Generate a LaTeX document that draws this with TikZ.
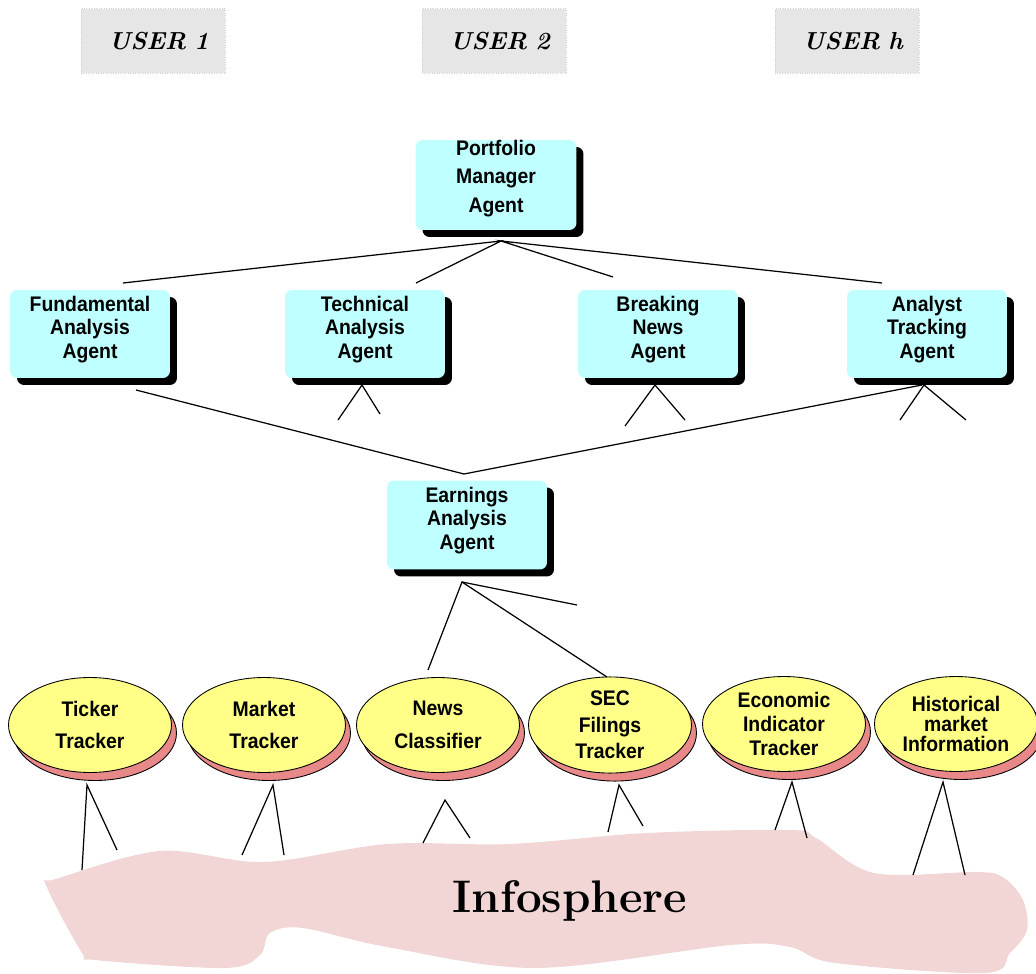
\documentclass[tikz,border=0pt]{standalone}
\usepackage{fontspec}
\setsansfont{Liberation Sans}[FakeStretch=0.92]
\usetikzlibrary{shapes.geometric,shadows}

\definecolor{agentcyan}{RGB}{192,255,255}
\definecolor{trackeryellow}{RGB}{255,255,136}
\definecolor{trackershadow}{RGB}{232,136,136}
\definecolor{infopink}{RGB}{242,214,214}
\definecolor{usergray}{RGB}{230,230,230}

\begin{document}
\begin{tikzpicture}[
        x=0.02cm, y=-0.02cm, % единица = пиксель исходника
        agent/.style = {rectangle, rounded corners=4pt, fill=agentcyan, minimum width=3.2cm, minimum height=1.76cm, inner sep=0pt, align=center,
                font=\sffamily\bfseries\fontsize{12}{13.6}\selectfont,
                general shadow={fill=black, shadow xshift=0.14cm, shadow yshift=-0.14cm}}, % агенты
        tracker/.style = {ellipse, draw, line width=0.5pt, fill=trackeryellow, minimum width=3.26cm, minimum height=1.9cm, inner sep=0pt, align=center,
                font=\sffamily\bfseries\fontsize{12}{13.6}\selectfont,
                general shadow={fill=trackershadow, draw=black, line width=0.5pt, shadow xshift=0.1cm, shadow yshift=-0.16cm}}, % трекеры
        user/.style = {rectangle, fill=usergray, draw=black!18, densely dotted, minimum width=2.88cm, minimum height=1.3cm,
                inner xsep=0.32cm, text width=2.24cm, align=right, font=\bfseries\itshape\fontsize{14}{16}\selectfont}, % пользователи
        link/.style = {draw, line width=0.7pt}, % связи
    ]

    \useasboundingbox (0,0) rectangle (1036,974);

    % инфосфера
    \fill[infopink] plot[smooth cycle, tension=0.55] coordinates {
            (46,885) (56,879) (160,851) (264,862) (387,844) (510,844) (647,833) (790,830) (816,838)
            (874,873) (978,872) (1004,878) (1023,900) (1027,930) (1010,953) (985,973) (835,963)
            (790,947) (731,945) (536,968) (387,947) (303,928) (270,933) (260,955) (225,968) (95,960) (82,953)};
    \node[font=\bfseries\fontsize{26}{30}\selectfont] (info) at (570,901) {Infosphere};

    % пользователи
    \node[user] (user1) at (153,41) {USER 1};
    \node[user] (user2) at (494,41) {USER 2};
    \node[user] (userh) at (847,41) {USER h};

    % агенты
    \node[agent, minimum width=3.22cm, minimum height=1.8cm] (portfolio) at (496,185) {Portfolio\\[2.5pt] Manager\\[3pt] Agent\\[-4pt]};
    \node[agent] (fundamental) at (90,334) {Fundamental\\ Analysis\\ Agent\\[-6pt]};
    \node[agent] (technical) at (365,334) {Technical\\ Analysis\\ Agent\\[-6pt]};
    \node[agent] (breaking) at (658,334) {Breaking\\ News\\ Agent\\[-6pt]};
    \node[agent] (analyst) at (927,334) {Analyst\\ Tracking\\ Agent\\[-6pt]};
    \node[agent, minimum height=1.78cm] (earnings) at (467,525) {Earnings\\ Analysis\\ Agent\\[-6pt]};

    % трекеры
    \node[tracker] (ticker) at (90,725) {Ticker\\[5pt] Tracker};
    \node[tracker] (market) at (264,725) {Market\\[5pt] Tracker};
    \node[tracker] (news) at (438,725) {News\\[5pt] Classifier};
    \node[tracker] (sec) at (610,725) {SEC\\[1.5pt] Filings\\[1.5pt] Tracker};
    \node[tracker] (economic) at (784,724) {Economic\\ Indicator\\ Tracker};
    \node[tracker] (historical) at (956,724) {Historical\\[-2pt] market\\[-2pt] Information};

    % точки связей
    \coordinate (portfolio-foot) at (501,241);
    \coordinate (fundamental-head) at (123,283);
    \coordinate (technical-head) at (416,283);
    \coordinate (breaking-head) at (613,277);
    \coordinate (analyst-head) at (882,283);
    \coordinate (fundamental-foot) at (136,390);
    \coordinate (earnings-head) at (464,474);
    \coordinate (analyst-foot) at (922,385);
    \coordinate (earnings-foot) at (462,582);

    \draw[link] (fundamental-head) -- (portfolio-foot) -- (technical-head);
    \draw[link] (breaking-head) -- (portfolio-foot) -- (analyst-head);
    \draw[link] (fundamental-foot) -- (earnings-head) -- (analyst-foot);
    \draw[link] (428,670) -- (earnings-foot) -- (607,677);
    \draw[link] (earnings-foot) -- (577,605);

    % вилки под агентами
    \draw[link] (338,420) -- (362,385) -- (380,414);
    \draw[link] (625,426) -- (655,385) -- (685,420);
    \draw[link] (900,420) -- (924,385) -- (966,420);

    % вилки под трекерами
    \draw[link] (82,870) -- (87,785) -- (117,850);
    \draw[link] (242,855) -- (273,785) -- (284,855);
    \draw[link] (423,843) -- (445,800) -- (470,838);
    \draw[link] (608,832) -- (619,785) -- (643,826);
    \draw[link] (775,830) -- (792,782) -- (807,838);
    \draw[link] (913,875) -- (943,782) -- (965,875);

\end{tikzpicture}
\end{document}
